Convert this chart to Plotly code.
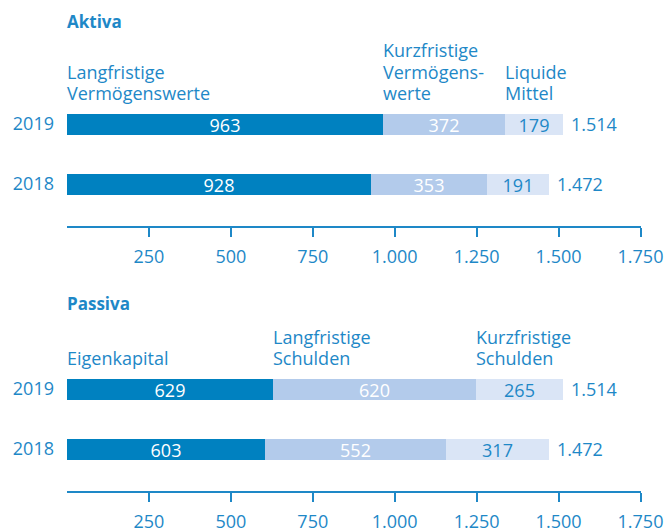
import plotly.graph_objects as go

# ---- data ----
years = ["2019", "2018"]
aktiva_langfristig = [963, 928]
aktiva_kurzfristig = [372, 353]
aktiva_liquide = [179, 191]
aktiva_total = [1514, 1472]
aktiva_total_text = ["1.514", "1.472"]

passiva_eigenkapital = [629, 603]
passiva_langfristig = [620, 552]
passiva_kurzfristig = [265, 317]
passiva_total = [1514, 1472]
passiva_total_text = ["1.514", "1.472"]

aktiva_labels = [["Langfristige", "Vermögenswerte"], ["Kurzfristige", "Vermögens-", "werte"], ["Liquide", "Mittel"]]
passiva_labels = [["Eigenkapital"], ["Langfristige", "Schulden"], ["Kurzfristige", "Schulden"]]

tick_vals = [250, 500, 750, 1000, 1250, 1500, 1750]
tick_text = ["250", "500", "750", "1.000", "1.250", "1.500", "1.750"]

# numeric row positions for the two years (2019 on top)
ypos = [1, 0]

# ---- style ----
FONT = "Open Sans"
FS = 18
TXT = "#1E88C7"
C1 = "#0081C0"
C2 = "#B3CBEB"
C3 = "#DAE5F6"
W, H = 665, 532

def py(p):
    return 1 - p / H

fig = go.Figure()

def add_panel(xa, ya, segs, colors, textcolors):
    for vals, col, tc in zip(segs, colors, textcolors):
        fig.add_trace(go.Bar(
            y=ypos, x=vals, orientation="h", width=0.35,
            marker=dict(color=col, line=dict(width=0)),
            text=[str(v) for v in vals], textposition="inside",
            insidetextanchor="middle", textangle=0, constraintext="none",
            textfont=dict(family=FONT, size=FS, color=tc),
            xaxis=xa, yaxis=ya, showlegend=False, hoverinfo="skip",
        ))

add_panel("x", "y", [aktiva_langfristig, aktiva_kurzfristig, aktiva_liquide],
          [C1, C2, C3], ["white", "white", TXT])
add_panel("x2", "y2", [passiva_eigenkapital, passiva_langfristig, passiva_kurzfristig],
          [C1, C2, C3], ["white", "white", TXT])

xdom = [67 / W, 640.5 / W]
xcommon = dict(range=[0, 1750], domain=xdom, showgrid=False, zeroline=False,
               showline=True, linecolor=TXT, linewidth=1.5,
               ticks="outside", ticklen=9, tickwidth=1.5, tickcolor=TXT,
               tickvals=tick_vals, ticktext=tick_text,
               tickfont=dict(family=FONT, size=FS, color=TXT),
               ticklabelstandoff=5, fixedrange=True, automargin=False)
ycommon = dict(range=[-0.7, 1.4], tickvals=ypos, ticktext=years,
               showgrid=False, zeroline=False, showline=False, ticks="",
               tickfont=dict(family=FONT, size=FS, color=TXT),
               ticklabelstandoff=12, fixedrange=True, automargin=False)

fig.update_layout(
    width=W, height=H, margin=dict(l=0, r=0, t=0, b=0, pad=0),
    paper_bgcolor="white", plot_bgcolor="white",
    barmode="stack", bargap=0,
    font=dict(family=FONT, color=TXT),
    xaxis=dict(**xcommon, anchor="y"),
    yaxis=dict(**ycommon, domain=[py(226), py(100)], anchor="x"),
    xaxis2=dict(**xcommon, anchor="y2"),
    yaxis2=dict(**ycommon, domain=[py(491), py(365)], anchor="x2"),
)

# titles
fig.add_annotation(text="<b>Aktiva</b>", xref="paper", yref="paper", x=65 / W, y=py(22),
                   xanchor="left", yanchor="middle", showarrow=False,
                   font=dict(family=FONT, size=17, color=TXT))
fig.add_annotation(text="<b>Passiva</b>", xref="paper", yref="paper", x=65 / W, y=py(303),
                   xanchor="left", yanchor="middle", showarrow=False,
                   font=dict(family=FONT, size=17, color=TXT))

# segment labels, left-aligned at each segment start of the 2019 bar,
# stacked upward from the bottom line
def seg_labels(xa, ya, labels, segs):
    starts = [0, segs[0][0], segs[0][0] + segs[1][0]]
    for lines, s in zip(labels, starts):
        n = len(lines)
        for i, line in enumerate(lines):
            up = 31 + 21.5 * (n - 1 - i)
            fig.add_annotation(text=line, xref=xa, yref=ya, x=s, y=ypos[0], xanchor="left",
                               yanchor="middle", align="left", showarrow=False,
                               xshift=-2, yshift=up,
                               font=dict(family=FONT, size=FS, color=TXT))

seg_labels("x", "y", aktiva_labels, [aktiva_langfristig, aktiva_kurzfristig])
seg_labels("x2", "y2", passiva_labels, [passiva_eigenkapital, passiva_langfristig])

# totals
for xa, ya, tot, tt in [("x", "y", aktiva_total, aktiva_total_text),
                        ("x2", "y2", passiva_total, passiva_total_text)]:
    for yp, v, t in zip(ypos, tot, tt):
        fig.add_annotation(text=t, xref=xa, yref=ya, x=v, y=yp, xanchor="left",
                           yanchor="middle", xshift=6, showarrow=False,
                           font=dict(family=FONT, size=FS, color=TXT))

fig.write_html("out.html", config={"displayModeBar": False},
               post_script="document.body.style.margin='0';document.body.style.overflow='hidden';")
